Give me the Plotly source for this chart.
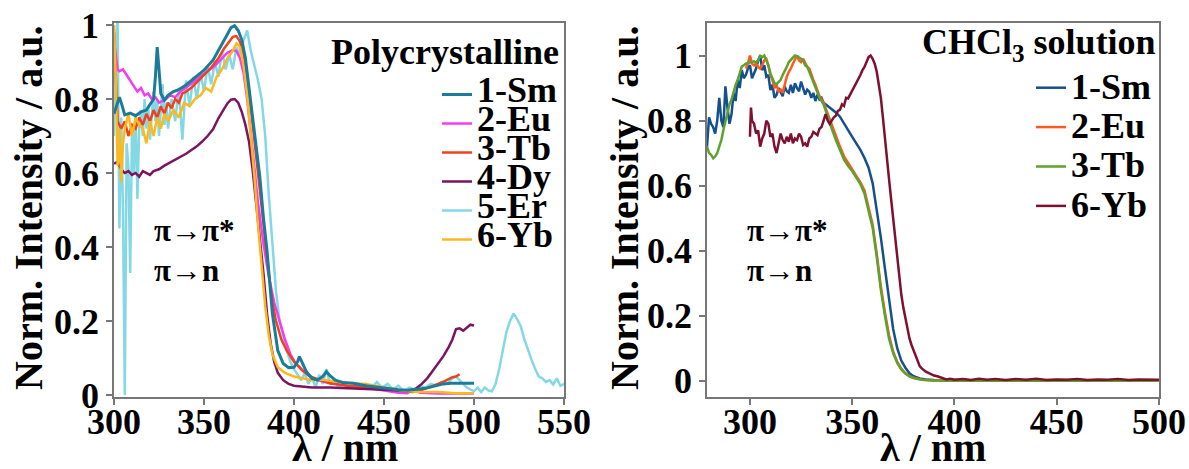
import plotly.graph_objects as go

# ---------------- Left panel: polycrystalline ----------------
poly_sm_x = [300,302,303,304,306,309,312,315,318,320,
             322,323,324,325,326,328,330,333,336,340,
             345,350,355,358,361,363,365,367,369,371,
             373,375,377,379,381,383,385,388,391,394,
             397,400,402,403,405,407,410,413,416,418,
             420,423,427,433,440,450,458,463,468,473,
             478,483,487,493,500]
poly_sm_y = [0.76,0.79,0.805,0.79,0.757,0.762,0.755,0.765,0.77,0.785,
             0.80,0.86,0.94,0.88,0.815,0.797,0.81,0.82,0.825,0.838,
             0.858,0.878,0.905,0.93,0.955,0.975,0.993,0.998,0.985,0.96,
             0.91,0.83,0.76,0.68,0.59,0.48,0.39,0.22,0.12,0.085,
             0.074,0.075,0.09,0.104,0.085,0.062,0.045,0.04,0.05,0.063,
             0.052,0.04,0.034,0.032,0.025,0.018,0.014,0.013,0.015,0.018,
             0.024,0.03,0.032,0.032,0.032]

poly_eu_x = [300,301,302,303,305,307,309,311,313,315,
             317,319,321,323,325,327,329,331,334,337,
             340,344,348,352,356,360,363,366,368,370,
             372,374,377,380,383,386,389,392,395,398,
             401,405,410,415,420,430,440,450,458,463,
             465,467,470,480,490,500]
poly_eu_y = [0.96,0.92,0.88,0.875,0.88,0.865,0.85,0.835,0.82,0.83,
             0.81,0.815,0.80,0.805,0.79,0.795,0.80,0.81,0.805,0.82,
             0.83,0.845,0.86,0.875,0.89,0.91,0.925,0.932,0.93,0.91,
             0.87,0.80,0.66,0.52,0.41,0.32,0.25,0.20,0.15,0.11,
             0.085,0.065,0.045,0.038,0.032,0.025,0.02,0.012,0.006,0.005,
             0.012,0.014,0.006,0.004,0.004,0.004]

poly_tb_x = [300,301,302,304,306,308,310,312,314,316,
             318,320,322,324,326,328,330,332,334,336,
             338,340,343,346,350,354,358,361,364,366,
             368,370,372,374,376,378,380,382,384,386,
             388,390,393,396,400,405,410,420,430,440,
             450,460,466,470,475,480,484,488,490,492]
poly_tb_y = [0.98,0.85,0.74,0.72,0.74,0.70,0.73,0.72,0.75,0.73,
             0.76,0.74,0.77,0.75,0.78,0.76,0.79,0.775,0.80,0.79,
             0.815,0.82,0.83,0.845,0.865,0.885,0.91,0.935,0.955,0.968,
             0.97,0.955,0.92,0.86,0.78,0.69,0.60,0.50,0.41,0.33,
             0.25,0.20,0.15,0.12,0.09,0.065,0.048,0.032,0.025,0.02,
             0.015,0.01,0.008,0.012,0.02,0.03,0.038,0.048,0.05,0.056]

poly_dy_x = [300,302,304,306,308,310,312,314,316,318,
             320,322,325,328,331,334,337,340,343,346,
             349,352,355,358,361,363,365,367,369,371,
             373,375,377,379,381,383,385,387,389,391,
             394,397,400,410,420,430,440,450,460,465,
             468,471,474,477,480,483,486,488,490,492,
             494,496,498,500]
poly_dy_y = [0.625,0.63,0.61,0.60,0.605,0.595,0.60,0.59,0.605,0.60,
             0.595,0.605,0.61,0.62,0.628,0.635,0.645,0.652,0.662,0.672,
             0.685,0.70,0.718,0.748,0.772,0.788,0.798,0.80,0.79,0.765,
             0.73,0.685,0.61,0.52,0.42,0.33,0.22,0.14,0.09,0.06,
             0.04,0.03,0.025,0.02,0.02,0.018,0.015,0.012,0.012,0.013,
             0.018,0.03,0.045,0.065,0.085,0.105,0.13,0.15,0.178,0.18,
             0.174,0.182,0.19,0.188]

poly_er_x = [300,301,302,303,304,305,306,307,308,309,
             310,311,312,313,314,315,316,317,318,319,
             320,321,322,323,324,325,326,327,328,329,
             330,332,334,336,338,340,342,344,346,348,
             350,352,354,356,358,360,362,364,366,368,
             370,372,374,376,378,380,382,384,386,388,
             390,392,394,396,398,400,402,404,406,408,
             410,412,414,416,418,420,422,425,428,431,
             434,437,440,443,446,449,452,455,458,461,
             464,467,470,473,476,479,482,485,488,490,
             492,494,496,498,500,502,504,506,508,510,
             512,514,516,518,520,522,524,526,528,530,
             532,534,536,538,540,542,544,546,548,550]
poly_er_y = [0.70,0.95,1.02,0.45,0.75,0.50,0.00,0.68,0.62,0.33,
             0.72,0.60,0.76,0.53,0.72,0.77,0.70,0.80,0.72,0.78,
             0.69,0.76,0.82,0.74,0.80,0.70,0.78,0.84,0.73,0.79,
             0.72,0.80,0.74,0.83,0.69,0.85,0.78,0.86,0.80,0.87,
             0.82,0.89,0.84,0.90,0.86,0.93,0.88,0.92,0.88,0.94,
             0.92,0.96,0.985,0.93,0.89,0.85,0.80,0.70,0.54,0.40,
             0.28,0.20,0.16,0.12,0.09,0.07,0.055,0.04,0.06,0.03,
             0.05,0.02,0.055,0.03,0.07,0.03,0.04,0.02,0.035,0.02,
             0.03,0.018,0.03,0.02,0.035,0.02,0.03,0.015,0.025,0.01,
             0.02,0.015,0.025,0.02,0.03,0.025,0.035,0.03,0.045,0.05,
             0.04,0.03,0.02,0.015,0.01,0.02,0.008,0.02,0.012,0.01,
             0.03,0.07,0.12,0.17,0.20,0.22,0.205,0.185,0.15,0.12,
             0.095,0.07,0.05,0.045,0.035,0.04,0.028,0.045,0.025,0.03]

poly_yb_x = [300,301,302,303,304,305,306,308,310,312,
             314,316,318,320,322,324,326,328,330,333,
             336,339,342,345,348,351,354,357,360,363,
             366,368,370,372,374,376,378,380,382,384,
             386,388,391,395,400,405,410,415,420,425,
             430,440,450,460,470,480,490,500]
poly_yb_y = [1.0,0.85,0.62,0.72,0.575,0.68,0.72,0.76,0.70,0.75,
             0.73,0.72,0.68,0.74,0.70,0.75,0.72,0.76,0.74,0.77,
             0.75,0.79,0.78,0.80,0.81,0.83,0.82,0.86,0.88,0.91,
             0.93,0.95,0.94,0.89,0.81,0.71,0.59,0.46,0.34,0.24,
             0.16,0.11,0.075,0.06,0.05,0.045,0.04,0.042,0.038,0.035,
             0.032,0.03,0.022,0.012,0.008,0.008,0.005,0.005]

# ---------------- Right panel: CHCl3 solution ----------------
sol_sm_x = [279,280,281,282,283,284,285,286,287,288,
            289,290,291,292,293,294,295,296,297,298,
            299,300,301,302,303,304,305,306,307,308,
            309,310,311,312,313,314,315,316,317,318,
            319,320,321,322,323,324,325,326,327,328,
            329,330,331,332,333,334,335,336,338,340,
            342,344,346,348,350,352,354,356,358,360,
            362,364,366,368,370,372,374,376,378,380,
            383,386,390,400,420,450,480,500]
sol_sm_y = [0.72,0.81,0.79,0.78,0.76,0.80,0.87,0.80,0.78,0.905,
            0.84,0.79,0.82,0.885,0.86,0.925,0.90,0.955,0.93,0.94,
            0.96,0.97,0.93,0.946,0.96,0.985,1.0,0.955,0.97,0.935,
            0.94,0.894,0.91,0.87,0.879,0.90,0.889,0.875,0.905,0.89,
            0.885,0.91,0.885,0.915,0.90,0.89,0.92,0.90,0.88,0.895,
            0.889,0.87,0.885,0.86,0.88,0.865,0.87,0.855,0.845,0.835,
            0.825,0.812,0.79,0.77,0.75,0.73,0.71,0.685,0.655,0.607,
            0.53,0.44,0.345,0.25,0.16,0.10,0.062,0.04,0.023,0.014,
            0.007,0.004,0.002,0.001,0.0,0.0,0.0,0.0]

sol_eu_x = [298,299,300,301,302,303,304,305,306,307,
            308,309,310,311,312,313,314,315,316,317,
            318,319,320,321,322,323,324,325,326,327,
            328,329,330,331,332,334,336,338,340,342,
            344,346,348,350,352,354,356,358,360,362,
            364,366,368,370,372,374,376,378,380,384,
            390,400,420,450,480,500]
sol_eu_y = [0.96,0.975,1.0,0.975,0.97,0.975,0.965,0.96,0.97,0.985,
            0.99,0.97,0.94,0.925,0.90,0.91,0.89,0.895,0.885,0.91,
            0.935,0.95,0.96,0.975,0.99,1.0,0.985,0.98,0.99,0.975,
            0.965,0.96,0.94,0.925,0.91,0.875,0.855,0.82,0.785,0.75,
            0.72,0.69,0.67,0.65,0.63,0.61,0.585,0.535,0.48,0.39,
            0.29,0.21,0.14,0.09,0.058,0.037,0.023,0.014,0.009,0.003,
            0.001,0.003,0.0,0.002,0.001,0.0]

sol_tb_x = [279,280,281,282,283,284,285,286,287,288,
            289,290,291,292,293,294,295,296,297,298,
            299,300,301,302,303,304,305,306,307,308,
            309,310,311,312,313,314,315,316,317,318,
            319,320,321,322,323,324,325,326,327,328,
            329,330,331,332,334,336,338,340,342,344,
            346,348,350,352,354,356,358,360,362,364,
            366,368,370,372,374,376,378,380,384,390,
            400,420,450,480,500]
sol_tb_y = [0.72,0.70,0.695,0.684,0.69,0.70,0.72,0.74,0.77,0.80,
            0.82,0.85,0.865,0.89,0.91,0.925,0.95,0.966,0.97,0.975,
            0.977,0.978,0.98,0.982,0.978,0.985,0.999,0.995,1.0,0.987,
            0.97,0.945,0.93,0.915,0.912,0.92,0.925,0.94,0.951,0.965,
            0.98,0.987,0.995,1.0,0.998,0.995,0.99,0.985,0.97,0.966,
            0.95,0.935,0.915,0.90,0.87,0.85,0.81,0.775,0.74,0.71,
            0.68,0.66,0.645,0.625,0.605,0.575,0.525,0.47,0.38,0.28,
            0.20,0.13,0.085,0.055,0.035,0.022,0.013,0.008,0.003,0.001,
            0.0,0.0,0.0,0.0,0.0]

sol_yb_x = [300,300.5,301,302,303,304,305,306,307,308,
            309,310,311,312,313,314,315,316,317,318,
            319,320,321,322,323,324,325,326,327,328,
            329,330,331,332,333,334,335,336,337,338,
            339,340,341,342,343,344,345,346,347,348,
            349,350,351,352,353,354,355,356,357,358,
            359,360,361,362,363,364,365,366,367,368,
            369,370,371,372,373,374,375,376,377,378,
            379,380,381,382,383,384,385,386,388,390,
            392,394,396,398,400,404,408,412,416,420,
            425,430,435,440,445,450,455,460,465,470,
            475,480,485,490,495,500]
sol_yb_y = [0.75,0.84,0.80,0.79,0.76,0.77,0.72,0.745,0.76,0.80,
            0.79,0.75,0.76,0.72,0.70,0.73,0.76,0.74,0.73,0.75,
            0.735,0.76,0.73,0.745,0.74,0.76,0.75,0.725,0.73,0.72,
            0.745,0.75,0.765,0.76,0.755,0.775,0.78,0.80,0.82,0.80,
            0.79,0.80,0.81,0.815,0.83,0.833,0.85,0.845,0.87,0.868,
            0.88,0.89,0.905,0.915,0.93,0.94,0.955,0.965,0.98,0.995,
            1.0,0.99,0.975,0.95,0.91,0.87,0.81,0.74,0.68,0.62,
            0.56,0.50,0.44,0.38,0.31,0.265,0.225,0.19,0.16,0.13,
            0.11,0.094,0.075,0.06,0.045,0.038,0.032,0.028,0.022,0.016,
            0.013,0.008,0.004,0.006,0.003,0.005,0.002,0.006,0.003,0.005,
            0.002,0.005,0.003,0.006,0.002,0.004,0.003,0.005,0.002,0.004,
            0.003,0.005,0.002,0.004,0.003,0.003]

poly_names = ["1-Sm", "2-Eu", "3-Tb", "4-Dy", "5-Er", "6-Yb"]
poly_colors = ["#1b7c99", "#f43cf4", "#f0401e", "#7a1562", "#84d8e6", "#fbb91f"]
sol_names = ["1-Sm", "2-Eu", "3-Tb", "6-Yb"]
sol_colors = ["#14508e", "#ff5a1e", "#5ea22d", "#7e1030"]

FONT = "Liberation Serif"
W, H = 1189, 469

fig = go.Figure()

poly_data = [(poly_sm_x, poly_sm_y), (poly_eu_x, poly_eu_y), (poly_tb_x, poly_tb_y),
             (poly_dy_x, poly_dy_y), (poly_er_x, poly_er_y), (poly_yb_x, poly_yb_y)]
poly_order = [4, 1, 2, 3, 5, 0]  # drawing order (Sm on top)
for i in poly_order:
    xs, ys = poly_data[i]
    fig.add_trace(go.Scatter(
        x=xs, y=ys, mode="lines", name=f"<span style='font-size:36px'>{poly_names[i]}</span>",
        line=dict(color=poly_colors[i], width=3 if i == 0 else 2.5),
        xaxis="x", yaxis="y", legend="legend", legendrank=i + 1))

sol_data = [(sol_sm_x, sol_sm_y), (sol_eu_x, sol_eu_y), (sol_tb_x, sol_tb_y), (sol_yb_x, sol_yb_y)]
for i in range(4):
    xs, ys = sol_data[i]
    fig.add_trace(go.Scatter(
        x=xs, y=ys, mode="lines", name=f"<span style='font-size:36px'>{sol_names[i]}</span>",
        line=dict(color=sol_colors[i], width=2.5),
        xaxis="x2", yaxis="y2", legend="legend2", legendrank=i + 1))

axis_common = dict(
    showline=True, linecolor="#777777", linewidth=1.5, mirror=True,
    ticks="outside", ticklen=6, tickwidth=1.5, tickcolor="#777777",
    showgrid=False, zeroline=False, automargin=False,
    tickfont=dict(family=FONT, size=36, color="black", weight="bold"),
)
title_font = dict(family=FONT, size=40, color="black", weight="bold")
ytick_vals = [0, 0.2, 0.4, 0.6, 0.8, 1]
ytick_text = ["0", "0.2", "0.4", "0.6", "0.8", "1"]

ydom = [(H - 397) / H, (H - 23) / H]
fig.update_layout(
    width=W, height=H,
    margin=dict(l=0, r=0, t=0, b=0, autoexpand=False),
    paper_bgcolor="white", plot_bgcolor="white",
    font=dict(family=FONT, color="black", weight="bold"),
    xaxis=dict(domain=[114 / W, 564 / W], range=[300, 550], tickvals=[300, 350, 400, 450, 500, 550],
               anchor="y", ticklabelstandoff=-14, **axis_common),
    yaxis=dict(domain=ydom, range=[-0.0054, 1.0054], tickvals=ytick_vals, ticktext=ytick_text,
               anchor="x", **axis_common),
    xaxis2=dict(domain=[707 / W, 1159 / W], range=[279, 500], tickvals=[300, 350, 400, 450, 500],
                anchor="y2", ticklabelstandoff=-14, **axis_common),
    yaxis2=dict(domain=ydom, range=[-0.05, 1.1], tickvals=ytick_vals, ticktext=ytick_text,
                anchor="x2", **axis_common),
    legend=dict(x=437 / W, y=(H - 75) / H, xanchor="left", yanchor="top",
                bgcolor="rgba(0,0,0,0)", borderwidth=0, tracegroupgap=0,
                font=dict(family=FONT, size=20, color="black", weight="bold")),
    legend2=dict(x=1031 / W, y=(H - 63) / H, xanchor="left", yanchor="top",
                 bgcolor="rgba(0,0,0,0)", borderwidth=0, tracegroupgap=0,
                 font=dict(family=FONT, size=28, color="black", weight="bold")),
    showlegend=True,
)

# axis titles
for cx in (345, 933):
    fig.add_annotation(text="λ / nm", xref="paper", yref="paper", x=cx / W, y=(H - 447) / H,
                       xanchor="center", yanchor="middle", showarrow=False, font=title_font)
for cx in (29, 625):
    fig.add_annotation(text="Norm. Intensity / a.u.", xref="paper", yref="paper", x=cx / W,
                       y=(H - 208) / H, xanchor="center", yanchor="middle", textangle=-90,
                       showarrow=False, font=title_font)

ann_font = dict(family=FONT, size=36, color="black", weight="bold")
pi_font = dict(family=FONT, size=31, color="black", weight="bold")
fig.add_annotation(text="Polycrystalline", xref="paper", yref="paper", x=561 / W, y=(H - 52) / H,
                   xanchor="right", yanchor="middle", showarrow=False, font=ann_font)
fig.add_annotation(text="CHCl<sub>3</sub> solution", xref="paper", yref="paper", x=1158 / W, y=(H - 45) / H,
                   xanchor="right", yanchor="middle", showarrow=False, font=ann_font)
for x0 in (152, 745):
    fig.add_annotation(text="π→π*", xref="paper", yref="paper", x=x0 / W, y=(H - 230) / H,
                       xanchor="left", yanchor="middle", showarrow=False, font=pi_font)
    fig.add_annotation(text="π→n", xref="paper", yref="paper", x=x0 / W, y=(H - 270) / H,
                       xanchor="left", yanchor="middle", showarrow=False, font=pi_font)

fig.write_html("out.html")
